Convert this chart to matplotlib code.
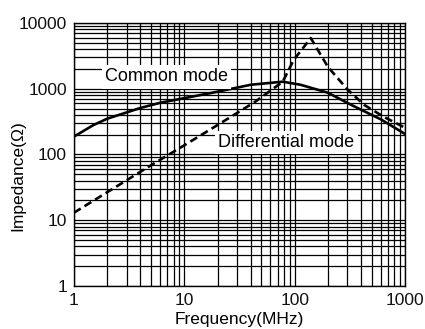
import numpy as np
import matplotlib.pyplot as plt
from matplotlib.ticker import LogLocator, FixedLocator, FixedFormatter, NullFormatter

plt.rcParams['font.family'] = ['Liberation Sans', 'DejaVu Sans']

# common mode (solid)
freq_cm = [1, 1.5, 2, 4, 6, 10, 18, 40, 78, 113, 200, 324, 608, 1000]
z_cm = [187, 280, 350, 510, 610, 720, 870, 1150, 1280, 1150, 870, 570, 340, 205]

# differential mode (dashed)
freq_dm = [1, 4.6, 10, 20, 44, 78, 98, 140, 200, 302, 425, 640, 1000]
z_dm = [13, 63, 138, 280, 636, 1280, 2750, 5900, 2150, 970, 570, 375, 255]

xticks = [1, 10, 100, 1000]
yticks = [1, 10, 100, 1000, 10000]

fig = plt.figure(figsize=(4.25, 3.29), dpi=100)
ax = fig.add_axes([0.174, 0.131, 0.779, 0.799])

ax.set_xscale('log')
ax.set_yscale('log')
ax.set_xlim(1, 1000)
ax.set_ylim(1, 10000)

ax.xaxis.set_major_locator(FixedLocator(xticks))
ax.xaxis.set_major_formatter(FixedFormatter([str(v) for v in xticks]))
ax.yaxis.set_major_locator(FixedLocator(yticks))
ax.yaxis.set_major_formatter(FixedFormatter([str(v) for v in yticks]))
ax.xaxis.set_minor_locator(LogLocator(base=10, subs=np.arange(2, 10)))
ax.yaxis.set_minor_locator(LogLocator(base=10, subs=np.arange(2, 10)))
ax.xaxis.set_minor_formatter(NullFormatter())
ax.yaxis.set_minor_formatter(NullFormatter())

ax.grid(True, which='both', color='black', lw=0.9)
ax.tick_params(which='both', length=0, labelsize=12.5, colors='#111111')
ax.tick_params(axis='x', pad=5)
ax.tick_params(axis='y', pad=5)
for s in ax.spines.values():
    s.set_linewidth(1.0)

ax.plot(freq_cm, z_cm, color='black', lw=1.9, zorder=3)
ax.plot(freq_dm, z_dm, color='black', lw=1.9, ls=(0, (3, 1.7)), zorder=3)

box = dict(facecolor='white', edgecolor='none', pad=2.5)
ax.text(1.91, 1520, 'Common mode', fontsize=13, va='center', ha='left',
        bbox=box, zorder=4)
ax.text(20.4, 152, 'Differential mode', fontsize=13, va='center', ha='left',
        bbox=box, zorder=4)

ax.set_xlabel('Frequency(MHz)', fontsize=12.5)
ax.set_ylabel('Impedance(Ω)', fontsize=12.5)
ax.xaxis.set_label_coords(0.50, -0.099)
ax.yaxis.set_label_coords(-0.148, 0.42)

fig.savefig('out.png', dpi=100)
